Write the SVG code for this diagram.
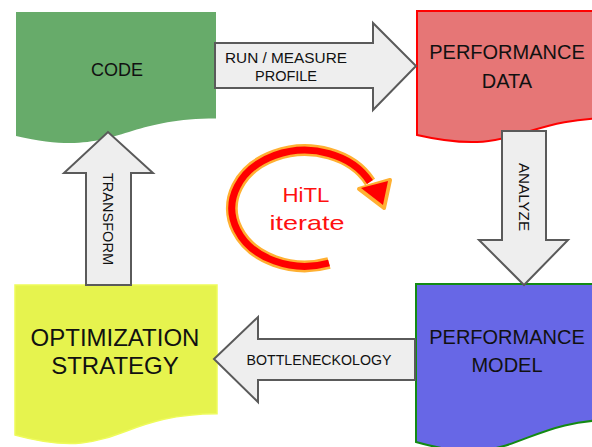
<svg xmlns="http://www.w3.org/2000/svg" width="592" height="447" viewBox="0 0 592 447">
  <style>
    .lbl { font-family: "Liberation Sans", Arial, sans-serif; fill: #111; text-anchor: middle; }
    .big { font-size: 20px; }
    .arrowbody { fill: #eeeeee; stroke: #5a5a5a; stroke-width: 2; stroke-linejoin: miter; }
    .small { font-size: 14px; }
    .hitl { font-family: "Liberation Sans", Arial, sans-serif; font-size: 21px; fill: #ff1010; text-anchor: middle; }
  </style>
  <defs>
    <filter id="glow" x="-20%" y="-20%" width="140%" height="140%">
      <feGaussianBlur stdDeviation="0.7"/>
    </filter>
  </defs>

  <rect width="592" height="447" fill="#ffffff"/>

  <!-- document-shaped nodes -->
  <g id="code">
    <path d="M16,12 H216 V118.6 C116,118.6 116,159 16,136 Z" fill="#67ab6a"/>
    <text class="lbl" x="117" y="76" font-size="18">CODE</text>
  </g>

  <g id="perf-data">
    <path d="M417,11 H617 V117.7 C517,117.7 517,158 417,135 Z" fill="#e67676" stroke="#ff0000" stroke-width="2"/>
    <text class="lbl big" x="507" y="59">PERFORMANCE</text>
    <text class="lbl big" x="507" y="88">DATA</text>
  </g>

  <g id="perf-model">
    <path d="M416,284 H618 V419.6 C517,419.6 517,471 416,442 Z" fill="#6767e6" stroke="#138a13" stroke-width="2"/>
    <text class="lbl big" x="507" y="344">PERFORMANCE</text>
    <text class="lbl big" x="507" y="372">MODEL</text>
  </g>

  <g id="opt-strategy">
    <path d="M15,285 H217 V413.8 C116,413.8 116,462.8 15,435 Z" fill="#e6f34e" stroke="#eefb5a" stroke-width="1.5"/>
    <text class="lbl" x="115" y="346" font-size="24">OPTIMIZATION</text>
    <text class="lbl" x="115" y="374" font-size="24">STRATEGY</text>
  </g>

  <!-- block arrows between the nodes -->
  <g id="connectors">
    <g id="run-measure">
      <path class="arrowbody" d="M215,43 H373 V23 L416,66 L373,110 V88 H215 Z"/>
      <text class="lbl small" x="286" y="63" textLength="122" lengthAdjust="spacingAndGlyphs">RUN / MEASURE</text>
      <text class="lbl small" x="286" y="81" textLength="62" lengthAdjust="spacingAndGlyphs">PROFILE</text>
    </g>
    <g id="analyze">
      <path class="arrowbody" d="M502,131 H546 V240 H568 L524,285 L479,240 H502 Z"/>
      <text class="lbl small" transform="translate(519,197) rotate(90)" textLength="68" lengthAdjust="spacingAndGlyphs">ANALYZE</text>
    </g>
    <g id="bottleneckology">
      <path class="arrowbody" d="M415,339 H258 V317 L214,359 L258,402 V380 H415 Z"/>
      <text class="lbl small" x="319" y="365" textLength="145" lengthAdjust="spacingAndGlyphs">BOTTLENECKOLOGY</text>
    </g>
    <g id="transform">
      <path class="arrowbody" d="M86,285 V173 H64 L108,132 L153,173 H131 V285 Z"/>
      <text class="lbl small" transform="translate(103,219) rotate(90)" textLength="92" lengthAdjust="spacingAndGlyphs">TRANSFORM</text>
    </g>
  </g>

  <!-- HiTL iteration loop -->
  <g id="hitl">
    <g filter="url(#glow)">
      <path d="M329,263 A73 58 0 1 1 370,182" fill="none" stroke="#ffb030" stroke-width="12"/>
      <polygon points="359,189 390,180 384,208" fill="#ffb030" stroke="#ffb030" stroke-width="4" stroke-linejoin="round"/>
    </g>
    <path d="M329,263 A73 58 0 1 1 370,182" fill="none" stroke="#ff0000" stroke-width="7"/>
    <polygon points="361,188 388,181 383,205" fill="#ff0000"/>
    <text class="hitl" x="306" y="202" textLength="47" lengthAdjust="spacingAndGlyphs">HiTL</text>
    <text class="hitl" x="307" y="230" textLength="75" lengthAdjust="spacingAndGlyphs">iterate</text>
  </g>
</svg>
